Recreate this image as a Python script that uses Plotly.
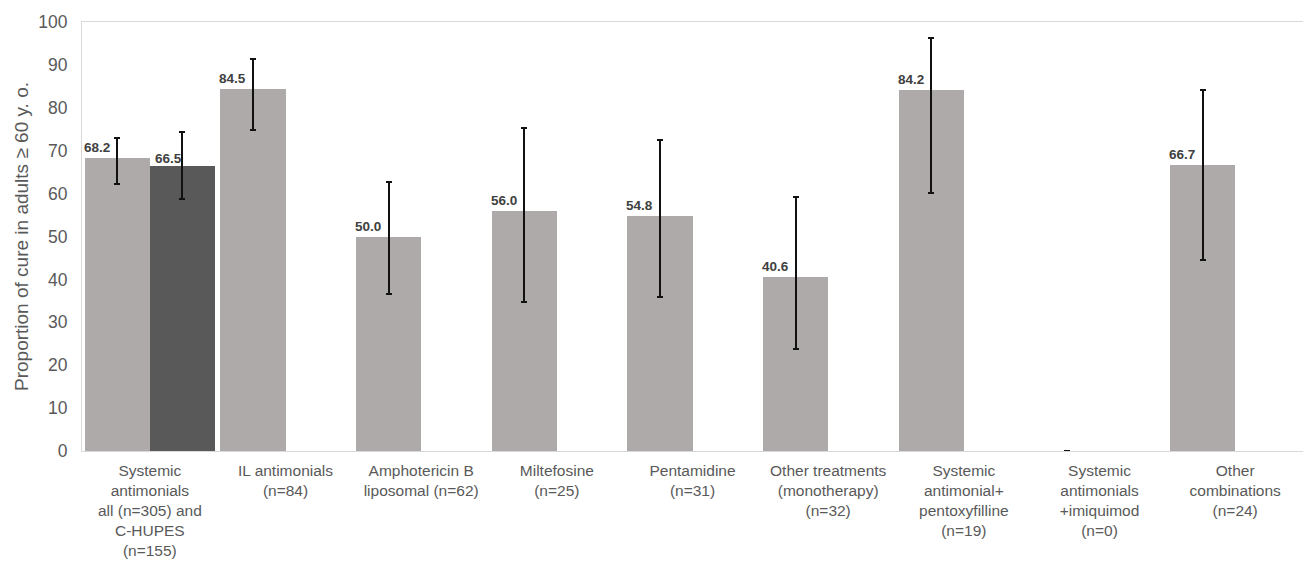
import plotly.graph_objects as go

categories = [
    "Systemic<br>antimonials<br>all (n=305) and<br>C-HUPES<br>(n=155)",
    "IL antimonials<br>(n=84)",
    "Amphotericin B<br>liposomal (n=62)",
    "Miltefosine<br>(n=25)",
    "Pentamidine<br>(n=31)",
    "Other treatments<br>(monotherapy)<br>(n=32)",
    "Systemic<br>antimonial+<br>pentoxyfilline<br>(n=19)",
    "Systemic<br>antimonials<br>+imiquimod<br>(n=0)",
    "Other<br>combinations<br>(n=24)",
]
all_values = [68.2, 84.5, 50.0, 56.0, 54.8, 40.6, 84.2, 0.0, 66.7]
all_upper = [73.0, 91.4, 62.6, 75.3, 72.6, 59.1, 96.3, 0.0, 84.2]
all_lower = [62.3, 74.9, 36.7, 34.7, 35.9, 23.8, 60.2, 0.0, 44.6]
all_labels = ["68.2", "84.5", "50.0", "56.0", "54.8", "40.6", "84.2", None, "66.7"]

chupes_values = [66.5]
chupes_upper = [74.4]
chupes_lower = [58.8]
chupes_labels = ["66.5"]

xs = list(range(len(categories)))
BW = 0.48

fig = go.Figure()
fig.add_trace(go.Bar(
    x=xs, y=all_values, offset=-BW, width=BW,
    marker=dict(color="#aeaaaa", line=dict(width=0)),
    error_y=dict(type="data", symmetric=False,
                 array=[u - v for u, v in zip(all_upper, all_values)],
                 arrayminus=[v - l for v, l in zip(all_values, all_lower)],
                 color="#111111", thickness=2, width=3),
    showlegend=False,
))
fig.add_trace(go.Bar(
    x=xs[:1], y=chupes_values, offset=0, width=BW,
    marker=dict(color="#595959", line=dict(width=0)),
    error_y=dict(type="data", symmetric=False,
                 array=[u - v for u, v in zip(chupes_upper, chupes_values)],
                 arrayminus=[v - l for v, l in zip(chupes_values, chupes_lower)],
                 color="#111111", thickness=2, width=3),
    showlegend=False,
))

lab_font = dict(family="Liberation Sans, Arial", size=13.5, color="#404040")
for x, v, t in zip(xs, all_values, all_labels):
    if t is None:
        continue
    fig.add_annotation(x=x - BW, y=v, text="<b>%s</b>" % t, showarrow=False,
                       xanchor="left", yanchor="bottom", yshift=1, xshift=-3,
                       font=lab_font)
for x, v, t in zip(xs[:1], chupes_values, chupes_labels):
    fig.add_annotation(x=x, y=v, text="<b>%s</b>" % t, showarrow=False,
                       xanchor="left", yanchor="bottom", yshift=-2, xshift=3,
                       font=lab_font)

# page body has an 8px margin, so the figure is drawn 8px smaller and offset
fig.update_layout(
    width=1303, height=553,
    margin=dict(l=74, r=8, t=14, b=110),
    plot_bgcolor="white", paper_bgcolor="white",
    font=dict(family="Liberation Sans, Arial", color="#595959"),
    bargap=0, barmode="overlay",
)
fig.update_xaxes(
    range=[-0.5, len(categories) - 0.5],
    tickmode="array", tickvals=xs, ticktext=categories,
    tickfont=dict(size=15.5, color="#595959"),
    showgrid=False, zeroline=False, ticks="",
    ticklabelstandoff=5,
    showline=True, linecolor="#d9d9d9", linewidth=1, mirror=True,
    automargin=False,
)
fig.update_yaxes(
    range=[0, 100], dtick=10, tick0=0,
    tickfont=dict(size=17.5, color="#595959"),
    title=dict(text="Proportion of cure in adults ≥ 60 y. o.",
               font=dict(size=19, color="#595959"), standoff=4),
    showgrid=False, zeroline=False, ticks="",
    ticklabelstandoff=10,
    showline=True, linecolor="#d9d9d9", linewidth=1, mirror=True,
    automargin=False,
)

fig.write_html("out.html")
